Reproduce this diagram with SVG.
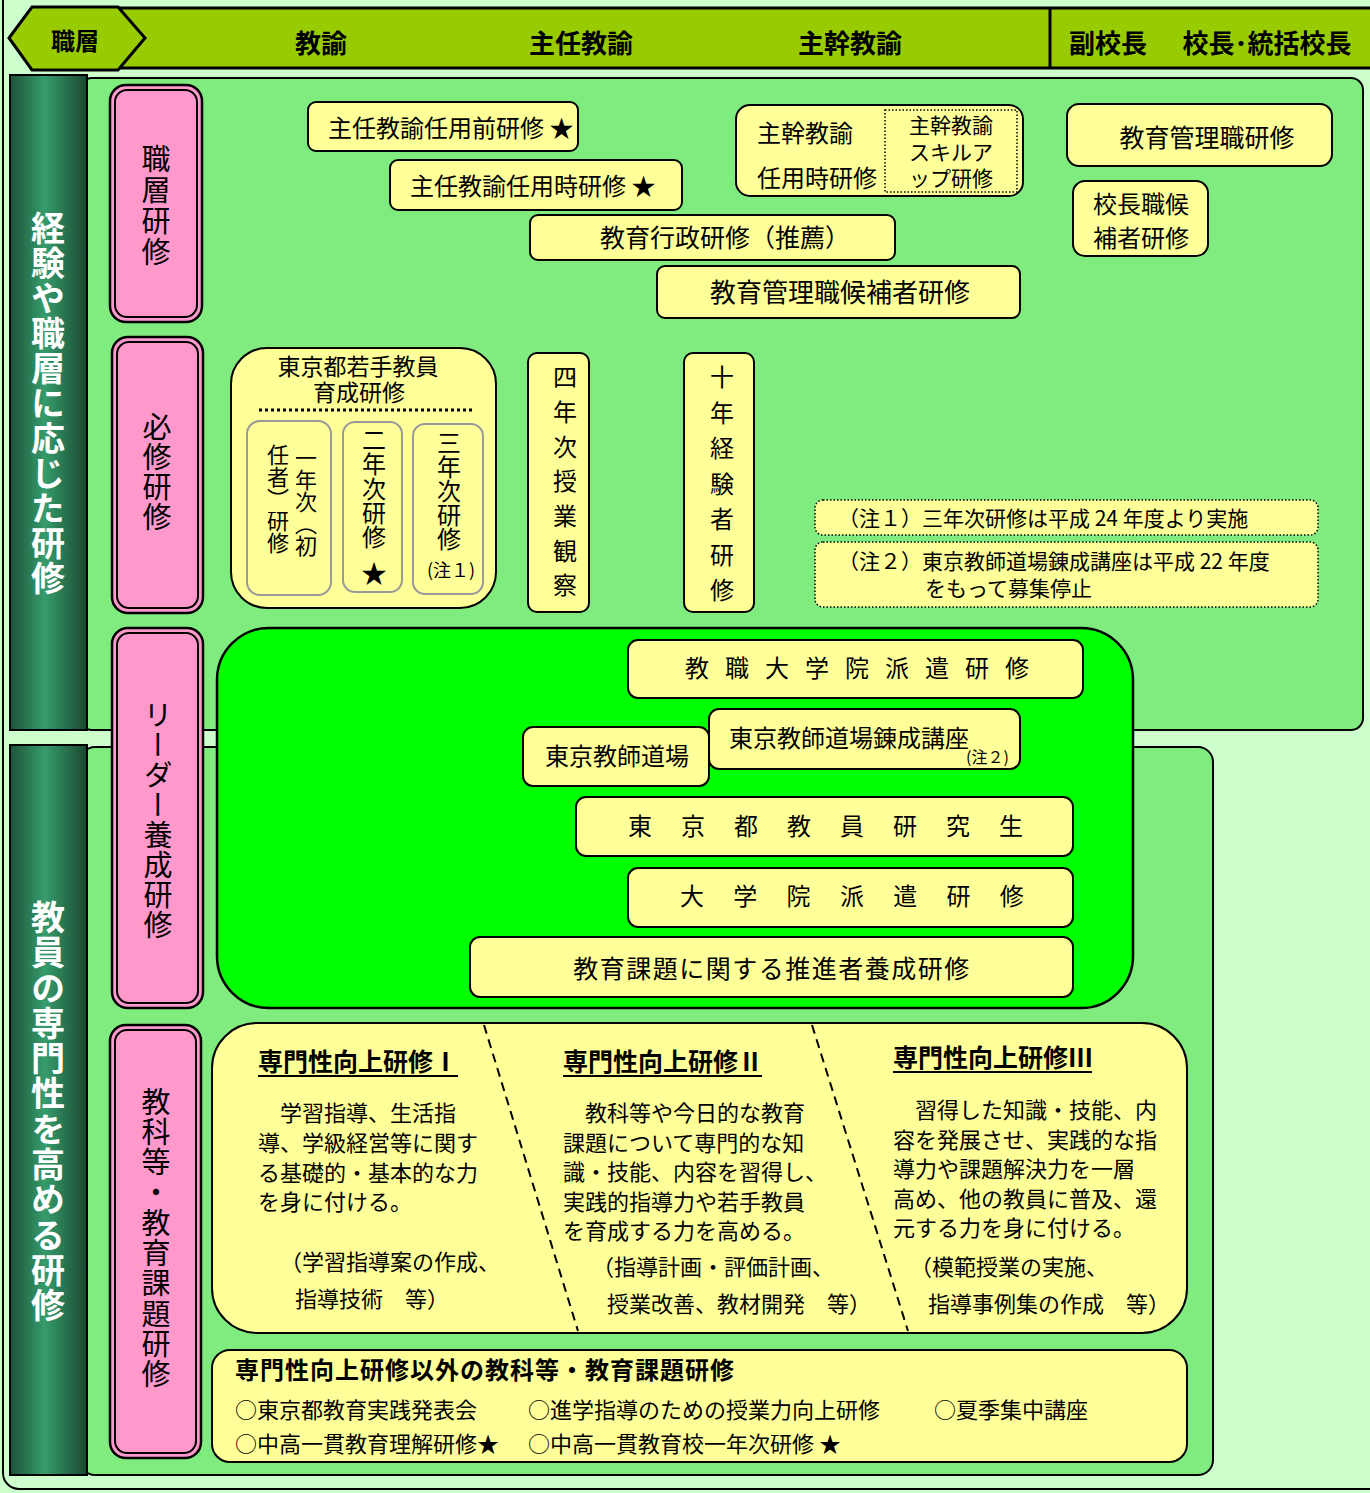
<svg xmlns="http://www.w3.org/2000/svg" width="1370" height="1493" viewBox="0 0 1370 1493">
<defs>
<linearGradient id="dg" x1="0" y1="0" x2="1" y2="0">
<stop offset="0" stop-color="#1D5337"/>
<stop offset="0.45" stop-color="#369C6C"/>
<stop offset="1" stop-color="#1A4830"/>
</linearGradient>
<style>
text{font-family:"Noto Sans CJK JP","Noto Sans",sans-serif;fill:#000}
.b{font-weight:bold}
.box{fill:#FFFF99;stroke:#000;stroke-width:2}
.pink{fill:#FF99CC;stroke:#000;stroke-width:2.5}
.pinki{fill:#FF99CC;stroke:#000;stroke-width:2}
.v{writing-mode:vertical-rl}
.dot{fill:#FFFF99;stroke:#000;stroke-width:1.5;stroke-dasharray:1.5 2}
.gray{fill:#FFFF99;stroke:#999;stroke-width:2}
.f24{font-size:24px}
.f22{font-size:22px}
.f21{font-size:21px}
.wh{fill:#fff}
</style>
</defs>
<rect x="0" y="0" width="1370" height="1493" fill="#CCFFCC"/>
<rect x="3" y="-20" width="1400" height="1509" rx="16" fill="#CCFFCC" stroke="#000" stroke-width="2"/>

<!-- header -->
<g id="header">
<rect x="110" y="8" width="1280" height="60" fill="#99CC00" stroke="#000" stroke-width="3"/>
<line x1="1050" y1="8" x2="1050" y2="68" stroke="#000" stroke-width="3"/>
<polygon points="9,38 32,7 118,7 145,38 118,70 32,70" fill="#99CC00" stroke="#000" stroke-width="3"/>
<text x="75" y="50" class="b" font-size="24" text-anchor="middle">職層</text>
<text x="321" y="53" class="b" font-size="26" text-anchor="middle">教諭</text>
<text x="581" y="53" class="b" font-size="26" text-anchor="middle">主任教諭</text>
<text x="850" y="53" class="b" font-size="26" text-anchor="middle">主幹教諭</text>
<text x="1108" y="53" class="b" font-size="26" text-anchor="middle">副校長</text>
<text x="1267" y="53" class="b" font-size="26" text-anchor="middle">校長･統括校長</text>
</g>

<!-- panels -->
<g id="panel-top">
<rect x="80" y="78" width="1283" height="652" rx="12" fill="#80EC80" stroke="#000" stroke-width="2"/>
<rect x="10" y="75" width="77" height="655" fill="url(#dg)" stroke="#000" stroke-width="2"/>
<text x="48" y="211" class="v b wh" font-size="34" style="letter-spacing:1px">経験や職層に応じた研修</text>
</g>
<g id="panel-bottom">
<rect x="80" y="747" width="1133" height="728" rx="15" fill="#80EC80" stroke="#000" stroke-width="2"/>
<rect x="10" y="745" width="77" height="730" fill="url(#dg)" stroke="#000" stroke-width="2"/>
<text x="48" y="900" class="v b wh" font-size="34" style="letter-spacing:1.3px">教員の専門性を高める研修</text>
</g>

<!-- category pink boxes -->
<g id="cat-shokuso">
<rect x="110" y="85" width="92" height="237" rx="16" class="pink"/>
<rect x="115" y="90" width="82" height="227" rx="12" class="pinki"/>
<text x="156" y="144" class="v" font-size="29" style="letter-spacing:2px">職層研修</text>
</g>
<g id="cat-hisshu">
<rect x="112" y="337" width="91" height="276" rx="16" class="pink"/>
<rect x="117" y="342" width="81" height="266" rx="12" class="pinki"/>
<text x="157" y="412" class="v" font-size="29" style="letter-spacing:1px">必修研修</text>
</g>

<!-- bright green leader panel -->
<g id="leader-panel">
<rect x="217" y="628" width="916" height="380" rx="52" fill="#00FF00" stroke="#000" stroke-width="2.5"/>
</g>
<g id="cat-leader">
<rect x="112" y="628" width="91" height="380" rx="16" class="pink"/>
<rect x="117" y="633" width="81" height="370" rx="12" class="pinki"/>
<text x="158" y="700" class="v" font-size="29" style="letter-spacing:1px">リーダー養成研修</text>
</g>
<g id="cat-kyoka">
<rect x="110" y="1025" width="91" height="433" rx="16" class="pink"/>
<rect x="115" y="1030" width="81" height="423" rx="12" class="pinki"/>
<text x="156" y="1087" class="v" font-size="29" style="letter-spacing:1.3px">教科等・教育課題研修</text>
</g>

<!-- 職層研修 nodes -->
<g id="n-ninyomae">
<rect x="308" y="102" width="270" height="49" rx="8" class="box"/>
<text x="328" y="137" class="f24">主任教諭任用前研修 ★</text>
</g>
<g id="n-ninyoji">
<rect x="390" y="160" width="292" height="50" rx="8" class="box"/>
<text x="410" y="195" class="f24">主任教諭任用時研修 ★</text>
</g>
<g id="n-gyosei">
<rect x="530" y="215" width="365" height="45" rx="8" class="box"/>
<text x="725" y="247" font-size="25" text-anchor="middle">教育行政研修（推薦）</text>
</g>
<g id="n-kanrikoho">
<rect x="657" y="266" width="363" height="52" rx="8" class="box"/>
<text x="840" y="302" font-size="26" text-anchor="middle">教育管理職候補者研修</text>
</g>
<g id="n-shukan">
<rect x="736" y="105" width="287" height="91" rx="14" class="box"/>
<text x="805" y="142" class="f24" text-anchor="middle">主幹教諭</text>
<text x="817" y="187" class="f24" text-anchor="middle">任用時研修</text>
<rect x="885" y="110" width="132" height="82" fill="none" stroke="#000" stroke-width="1.5" stroke-dasharray="1.5 2"/>
<text x="951" y="133" class="f21" text-anchor="middle">主幹教諭</text>
<text x="951" y="160" class="f21" text-anchor="middle">スキルア</text>
<text x="951" y="186" class="f21" text-anchor="middle">ップ研修</text>
</g>
<g id="n-kanrishoku">
<rect x="1067" y="104" width="265" height="62" rx="12" class="box"/>
<text x="1207" y="147" font-size="25" text-anchor="middle">教育管理職研修</text>
</g>
<g id="n-kochokoho">
<rect x="1073" y="181" width="135" height="75" rx="12" class="box"/>
<text x="1141" y="213" class="f24" text-anchor="middle">校長職候</text>
<text x="1141" y="247" class="f24" text-anchor="middle">補者研修</text>
</g>

<!-- 必修研修 nodes -->
<g id="n-wakate">
<rect x="231" y="348" width="265" height="260" rx="36" class="box"/>
<text x="358" y="375" font-size="23" text-anchor="middle">東京都若手教員</text>
<text x="359" y="401" font-size="23" text-anchor="middle">育成研修</text>
<line x1="259" y1="410" x2="472" y2="410" stroke="#000" stroke-width="3" stroke-dasharray="3 3"/>
<rect x="247" y="421" width="84" height="174" rx="13" class="gray"/>
<text x="306" y="447" class="v f22">一年次（初</text>
<text x="278" y="444" class="v f22">任者）研修</text>
<rect x="343" y="422" width="59" height="170" rx="12" class="gray"/>
<text x="374" y="428" class="v f24" style="letter-spacing:0.3px">二年次研修</text>
<text x="374" y="583" font-size="26" text-anchor="middle">★</text>
<rect x="413" y="424" width="70" height="170" rx="12" class="gray"/>
<text x="449" y="431" class="v f24">三年次研修</text>
<text x="451" y="577" font-size="18" text-anchor="middle">(注１)</text>
</g>
<g id="n-yonen">
<rect x="528" y="353" width="61" height="259" rx="9" class="box"/>
<text x="565" y="365" class="v f24" style="letter-spacing:10.7px">四年次授業観察</text>
</g>
<g id="n-junen">
<rect x="684" y="353" width="70" height="259" rx="9" class="box"/>
<text x="722" y="365" class="v f24" style="letter-spacing:11.5px">十年経験者研修</text>
</g>

<!-- notes -->
<g id="note1">
<rect x="815" y="500" width="503" height="35" rx="8" class="dot"/>
<text x="838" y="526" class="f21">（注１）三年次研修は平成 24 年度より実施</text>
</g>
<g id="note2">
<rect x="815" y="542" width="503" height="65" rx="8" class="dot"/>
<text x="838" y="569" class="f21">（注２）東京教師道場錬成講座は平成 22 年度</text>
<text x="925" y="596" class="f21">をもって募集停止</text>
</g>

<!-- leader nodes -->
<g id="n-kyoshoku">
<rect x="628" y="640" width="455" height="58" rx="10" class="box"/>
<text x="685" y="677" class="f24" style="letter-spacing:16px">教職大学院派遣研修</text>
</g>
<g id="n-dojo">
<rect x="523" y="727" width="186" height="59" rx="10" class="box"/>
<text x="617" y="765" class="f24" text-anchor="middle">東京教師道場</text>
</g>
<g id="n-rensei">
<rect x="709" y="709" width="311" height="60" rx="10" class="box"/>
<text x="729" y="747" class="f24">東京教師道場錬成講座</text>
<text x="966" y="763" font-size="16">(注２)</text>
</g>
<g id="n-kenkyusei">
<rect x="576" y="797" width="497" height="59" rx="10" class="box"/>
<text x="628" y="835" class="f24" style="letter-spacing:29px">東京都教員研究生</text>
</g>
<g id="n-daigakuin">
<rect x="628" y="868" width="445" height="59" rx="10" class="box"/>
<text x="680" y="905" class="f24" style="letter-spacing:29.3px">大学院派遣研修</text>
</g>
<g id="n-suishinsha">
<rect x="470" y="937" width="603" height="60" rx="10" class="box"/>
<text x="772" y="978" font-size="25" text-anchor="middle" style="letter-spacing:1.5px">教育課題に関する推進者養成研修</text>
</g>

<!-- 専門性向上研修 -->
<g id="n-senmon">
<rect x="212" y="1023" width="975" height="310" rx="45" class="box"/>
<line x1="484" y1="1025" x2="578" y2="1331" stroke="#000" stroke-width="2" stroke-dasharray="9 6"/>
<line x1="812" y1="1025" x2="908" y2="1331" stroke="#000" stroke-width="2" stroke-dasharray="9 6"/>
<text x="258" y="1071" font-size="25" class="b">専門性向上研修Ⅰ</text>
<line x1="258" y1="1076" x2="458" y2="1076" stroke="#000" stroke-width="2"/>
<text x="563" y="1071" font-size="25" class="b">専門性向上研修Ⅱ</text>
<line x1="563" y1="1076" x2="762" y2="1076" stroke="#000" stroke-width="2"/>
<text x="893" y="1067" font-size="25" class="b">専門性向上研修Ⅲ</text>
<line x1="893" y1="1072" x2="1092" y2="1072" stroke="#000" stroke-width="2"/>
<g class="f22">
<text x="258" y="1121">　学習指導、生活指</text>
<text x="258" y="1151">導、学級経営等に関す</text>
<text x="258" y="1181">る基礎的・基本的な力</text>
<text x="258" y="1210">を身に付ける。</text>
<text x="280" y="1270">（学習指導案の作成、</text>
<text x="295" y="1307">指導技術　等）</text>
<text x="563" y="1121">　教科等や今日的な教育</text>
<text x="563" y="1151">課題について専門的な知</text>
<text x="563" y="1180">識・技能、内容を習得し、</text>
<text x="563" y="1210">実践的指導力や若手教員</text>
<text x="563" y="1239">を育成する力を高める。</text>
<text x="592" y="1275">（指導計画・評価計画、</text>
<text x="607" y="1312">授業改善、教材開発　等）</text>
<text x="893" y="1118">　習得した知識・技能、内</text>
<text x="893" y="1148">容を発展させ、実践的な指</text>
<text x="893" y="1177">導力や課題解決力を一層</text>
<text x="893" y="1207">高め、他の教員に普及、還</text>
<text x="893" y="1236">元する力を身に付ける。</text>
<text x="910" y="1275">（模範授業の実施、</text>
<text x="928" y="1312">指導事例集の作成　等）</text>
</g>
</g>
<g id="n-other">
<rect x="212" y="1350" width="975" height="112" rx="18" class="box"/>
<text x="235" y="1379" class="b f24" style="letter-spacing:1px">専門性向上研修以外の教科等・教育課題研修</text>
<text x="235" y="1418" class="f22">○東京都教育実践発表会</text>
<text x="528" y="1418" class="f22">○進学指導のための授業力向上研修</text>
<text x="934" y="1418" class="f22">○夏季集中講座</text>
<text x="235" y="1452" class="f22">○中高一貫教育理解研修★</text>
<text x="528" y="1452" class="f22">○中高一貫教育校一年次研修 ★</text>
</g>
<g id="connectors"></g>
</svg>
